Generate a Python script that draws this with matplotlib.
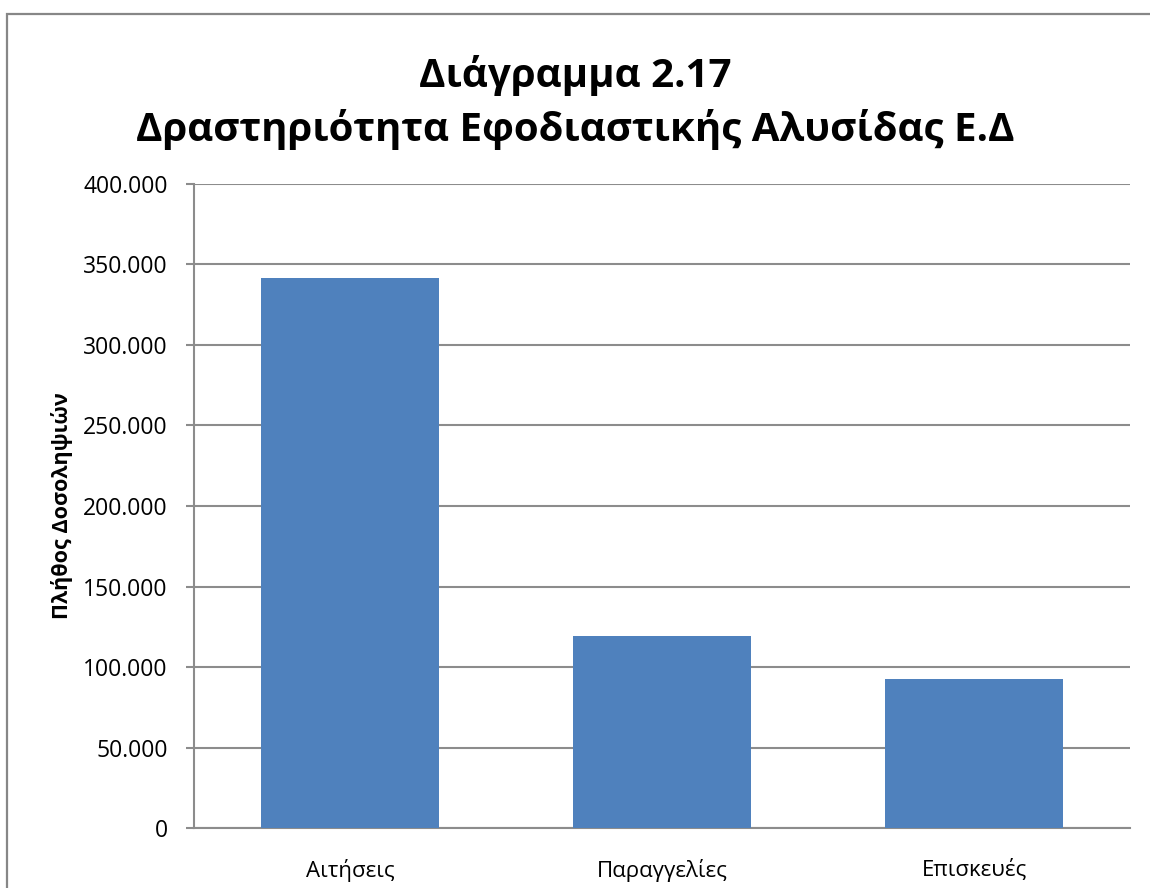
import matplotlib.pyplot as plt
from matplotlib.patches import Rectangle
from matplotlib.ticker import FuncFormatter

plt.rcParams['font.family'] = ['Open Sans', 'DejaVu Sans']

# activity of the supply chain
categories = ['Αιτήσεις', 'Παραγγελίες', 'Επισκευές']
counts = [341200, 119500, 92800]
yticks = [0, 50000, 100000, 150000, 200000, 250000, 300000, 350000, 400000]

BAR_COLOR = '#4f81bd'
GRID_COLOR = '#8c8c8c'

fig = plt.figure(figsize=(11.5, 8.88), dpi=100)
ax = fig.add_axes([194 / 1150, 1 - 828.3 / 888, 936 / 1150, (828.3 - 183.5) / 888])

# outer chart frame (runs off the right and bottom edges)
frame = Rectangle((7 / 1150, -0.05), 1.1, 1 - 14 / 888 + 0.05,
                  transform=fig.transFigure, fill=False,
                  edgecolor='#878787', linewidth=1.6, clip_on=False)
fig.patches.append(frame)

x = range(len(categories))
ax.bar(x, counts, width=0.57, color=BAR_COLOR, zorder=3)

ax.set_xlim(-0.5, len(categories) - 0.5)
ax.set_ylim(0, 400000)
ax.set_yticks(yticks)
ax.yaxis.set_major_formatter(FuncFormatter(lambda v, p: f'{int(v):,}'.replace(',', '.')))
ax.set_xticks(list(x))
ax.set_xticklabels(categories)

ax.grid(axis='y', color=GRID_COLOR, linewidth=1.5, zorder=0)
ax.set_axisbelow(True)
for side in ['top', 'right']:
    ax.spines[side].set_visible(False)
for side in ['left', 'bottom']:
    ax.spines[side].set_color(GRID_COLOR)
    ax.spines[side].set_linewidth(1.5)

ax.tick_params(axis='y', length=6, width=1.5, color=GRID_COLOR, labelsize=16.5, pad=13)
ax.tick_params(axis='x', length=0, labelsize=16, pad=22)

ax.set_ylabel('Πλήθος Δοσοληψιών', fontsize=15.5, fontweight='bold', labelpad=7)

fig.text(0.5, 1 - 76 / 888, 'Διάγραμμα 2.17', ha='center', va='center',
         fontsize=29, fontweight='bold')
fig.text(0.5, 1 - 130 / 888, 'Δραστηριότητα Εφοδιαστικής Αλυσίδας Ε.Δ', ha='center', va='center',
         fontsize=29, fontweight='bold')

fig.savefig('out.png', dpi=100)
